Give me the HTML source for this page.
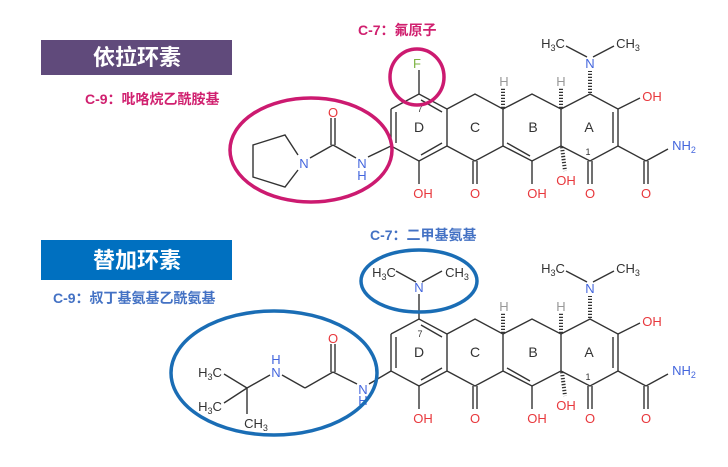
<!DOCTYPE html>
<html><head><meta charset="utf-8"><style>
html,body{margin:0;padding:0;background:#fff;}
svg{display:block;}
text{font-family:"Liberation Sans","Noto Sans CJK SC",sans-serif;}
</style></head><body>
<svg width="728" height="467" viewBox="0 0 728 467" xmlns="http://www.w3.org/2000/svg">
<defs>
<g id="core" stroke="#333" stroke-width="1.4" fill="none">
  <polyline points="391,109 419,94 447,109 447,146 419,161 391,146 391,109"/>
  <line x1="421" y1="100" x2="442" y2="112"/>
  <line x1="442" y1="143" x2="421" y2="155"/>
  <line x1="396" y1="112" x2="396" y2="143"/>
  <polyline points="447,109 475,94 503,109 503,146 475,161 447,146"/>
  <polyline points="503,109 532,94 561,109 561,146 532,161 503,146"/>
  <line x1="507" y1="143" x2="530" y2="156"/>
  <polyline points="561,109 590,94 618,109 618,146 590,161 561,146"/>
  <line x1="613" y1="112" x2="613" y2="143"/>
  <line x1="419" y1="161" x2="419" y2="184"/>
  <line x1="473" y1="161" x2="473" y2="184"/><line x1="477" y1="161" x2="477" y2="184"/>
  <line x1="532" y1="161" x2="532" y2="184"/>
  <line x1="588" y1="161" x2="588" y2="184"/><line x1="592" y1="161" x2="592" y2="184"/>
  <line x1="618" y1="146" x2="646" y2="161"/>
  <line x1="644" y1="161" x2="644" y2="184"/><line x1="648" y1="161" x2="648" y2="184"/>
  <line x1="646" y1="161" x2="668" y2="149"/>
  <line x1="618" y1="109" x2="640" y2="98"/>
  <line x1="503" y1="108" x2="503" y2="88" stroke-width="4" stroke-dasharray="1.3 1.7"/>
  <line x1="561" y1="108" x2="561" y2="88" stroke-width="4" stroke-dasharray="1.3 1.7"/>
  <line x1="590" y1="93" x2="590" y2="71" stroke-width="4" stroke-dasharray="1.3 1.7"/>
  <line x1="562" y1="147" x2="565" y2="171" stroke-width="4" stroke-dasharray="1.3 1.7"/>
  <line x1="587" y1="57" x2="566" y2="46"/>
  <line x1="593" y1="57" x2="614" y2="46"/>
</g>
<g id="coreText" font-size="13" text-anchor="middle">
  <text x="419" y="132" fill="#333" font-size="14">D</text>
  <text x="475" y="132" fill="#333" font-size="14">C</text>
  <text x="533" y="132" fill="#333" font-size="14">B</text>
  <text x="589" y="132" fill="#333" font-size="14">A</text>
  <text x="420" y="112" fill="#333" font-size="9">7</text>
  <text x="588" y="155" fill="#333" font-size="9">1</text>
  <text x="423" y="198" fill="#e8383d">OH</text>
  <text x="475" y="198" fill="#e8383d">O</text>
  <text x="537" y="198" fill="#e8383d">OH</text>
  <text x="566" y="185" fill="#e8383d">OH</text>
  <text x="590" y="198" fill="#e8383d">O</text>
  <text x="646" y="198" fill="#e8383d">O</text>
  <text x="652" y="101" fill="#e8383d">OH</text>
  <text x="684" y="150" fill="#4466dd">NH<tspan font-size="9" dy="3">2</tspan></text>
  <text x="504" y="86" fill="#999">H</text>
  <text x="561" y="86" fill="#999">H</text>
  <text x="590" y="68" fill="#4466dd">N</text>
  <text x="553" y="48" fill="#333">H<tspan font-size="9" dy="3">3</tspan><tspan dy="-3">C</tspan></text>
  <text x="628" y="48" fill="#333">CH<tspan font-size="9" dy="3">3</tspan></text>
</g>
</defs>

<rect x="41" y="40" width="191" height="35" fill="#604a7b"/>
<text x="137" y="65" fill="#fff" font-size="22" font-weight="bold" text-anchor="middle">依拉环素</text>
<text x="85" y="104" fill="#d0206f" font-size="14" font-weight="bold">C-9：吡咯烷乙酰胺基</text>
<text x="358" y="35" fill="#d0206f" font-size="14" font-weight="bold">C-7：氟原子</text>

<use href="#core"/>
<use href="#coreText"/>
<g stroke="#333" stroke-width="1.4" fill="none">
  <line x1="419" y1="94" x2="419" y2="70"/>
  <polyline points="298,155 285,135 253,145 253,177 285,187 298,170"/>
  <line x1="310" y1="158" x2="333" y2="145"/>
  <line x1="331" y1="145" x2="331" y2="118"/><line x1="335" y1="145" x2="335" y2="118"/>
  <line x1="333" y1="145" x2="356" y2="158"/>
  <line x1="368" y1="157" x2="391" y2="146"/>
</g>
<g font-size="13" text-anchor="middle">
  <text x="417" y="68" fill="#7cb342">F</text>
  <text x="304" y="168" fill="#4466dd">N</text>
  <text x="333" y="117" fill="#e8383d">O</text>
  <text x="362" y="168" fill="#4466dd">N</text>
  <text x="362" y="180" fill="#4466dd">H</text>
</g>
<ellipse cx="311" cy="150" rx="81" ry="52" fill="none" stroke="#cc1a70" stroke-width="3.5"/>
<ellipse cx="417" cy="77" rx="27" ry="28" fill="none" stroke="#cc1a70" stroke-width="3.5"/>

<rect x="41" y="240" width="191" height="40" fill="#0070c0"/>
<text x="137" y="268" fill="#fff" font-size="22" font-weight="bold" text-anchor="middle">替加环素</text>
<text x="53" y="303" fill="#4472c4" font-size="14" font-weight="bold">C-9：叔丁基氨基乙酰氨基</text>
<text x="370" y="240" fill="#4472c4" font-size="14" font-weight="bold">C-7：二甲基氨基</text>

<g transform="translate(0,225)">
  <use href="#core"/>
  <use href="#coreText"/>
</g>
<g stroke="#333" stroke-width="1.4" fill="none">
  <line x1="419" y1="319" x2="419" y2="294"/>
  <line x1="416" y1="282" x2="396" y2="271"/>
  <line x1="422" y1="282" x2="442" y2="271"/>
  <line x1="369" y1="384" x2="391" y2="371"/>
  <line x1="357" y1="384" x2="333" y2="372"/>
  <line x1="331" y1="372" x2="331" y2="344"/><line x1="335" y1="372" x2="335" y2="344"/>
  <line x1="333" y1="372" x2="305" y2="388"/>
  <line x1="305" y1="388" x2="282" y2="375"/>
  <line x1="270" y1="375" x2="247" y2="388"/>
  <line x1="247" y1="388" x2="224" y2="374"/>
  <line x1="247" y1="388" x2="224" y2="403"/>
  <line x1="247" y1="388" x2="247" y2="414"/>
</g>
<g font-size="13" text-anchor="middle">
  <text x="419" y="292" fill="#4466dd">N</text>
  <text x="384" y="277" fill="#333">H<tspan font-size="9" dy="3">3</tspan><tspan dy="-3">C</tspan></text>
  <text x="457" y="277" fill="#333">CH<tspan font-size="9" dy="3">3</tspan></text>
  <text x="333" y="343" fill="#e8383d">O</text>
  <text x="363" y="394" fill="#4466dd">N</text>
  <text x="363" y="405" fill="#4466dd">H</text>
  <text x="276" y="377" fill="#4466dd">N</text>
  <text x="276" y="364" fill="#4466dd">H</text>
  <text x="210" y="377" fill="#333">H<tspan font-size="9" dy="3">3</tspan><tspan dy="-3">C</tspan></text>
  <text x="210" y="411" fill="#333">H<tspan font-size="9" dy="3">3</tspan><tspan dy="-3">C</tspan></text>
  <text x="256" y="428" fill="#333">CH<tspan font-size="9" dy="3">3</tspan></text>
</g>
<ellipse cx="274" cy="373" rx="103" ry="62" fill="none" stroke="#1a6db5" stroke-width="3.5"/>
<ellipse cx="419" cy="281" rx="58" ry="31" fill="none" stroke="#1a6db5" stroke-width="3.5"/>
</svg>
</body></html>
